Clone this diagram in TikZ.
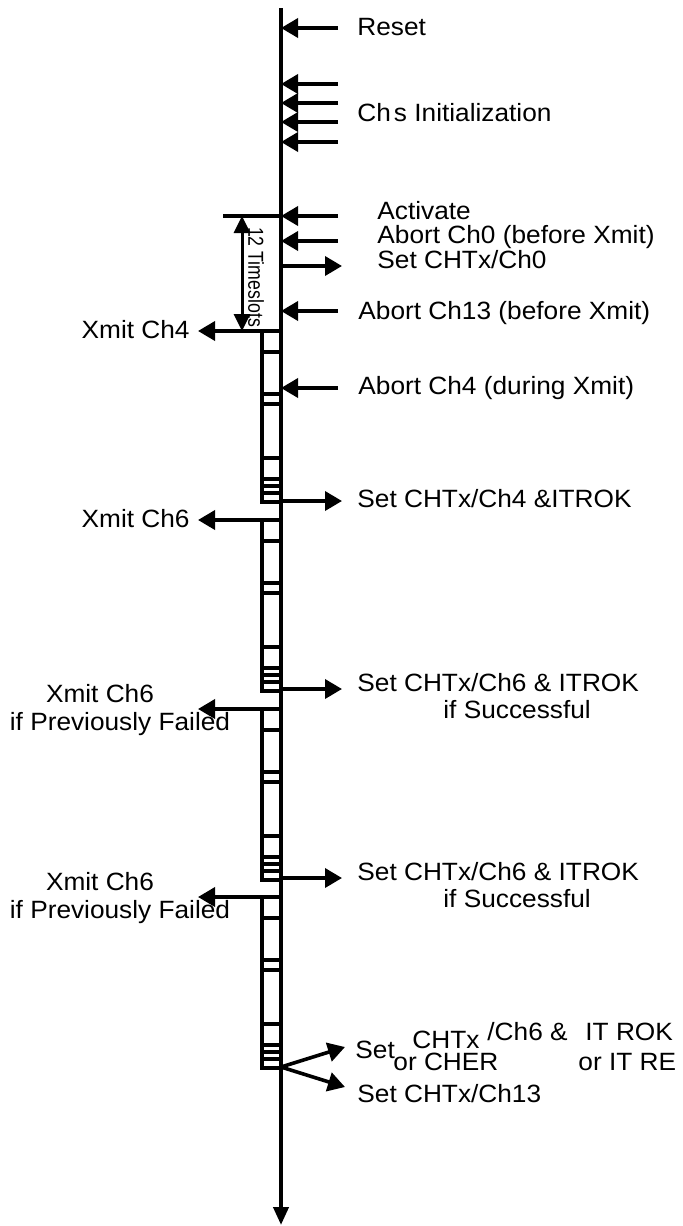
\documentclass[tikz,border=0pt]{standalone}
\usepackage{fontspec}
\setmainfont{Liberation Sans}[FakeStretch=1.05]
\newfontfamily\narrowsans{Liberation Sans}[FakeStretch=0.82]
\usetikzlibrary{arrows.meta}
\begin{document}
\begin{tikzpicture}[x=0.5pt,y=-0.5pt,
    lbl/.style={anchor=base west,inner sep=0pt,font=\fontsize{12.5}{14}\selectfont},
    lblr/.style={lbl,anchor=base east},
    sig/.style={line width=1.8pt,-{Triangle[length=8.5pt,width=9.5pt]}},
    slot/.style={line width=1.7pt}]
    \useasboundingbox (0,0) rectangle (683,1226);
    % time axis
    \coordinate (t0) at (281,8);
    \coordinate (tend) at (281,1225);
    \draw[line width=2pt,-{Triangle[length=9pt,width=7.5pt]}] (t0) -- (tend);
    % timeslot blocks, each with a transmit arrow to the left
    \foreach \y [count=\i] in {331,520,709,897} {
        \coordinate (blk\i) at (281,\y);
        \coordinate (xm\i) at (198,\y);
        \draw[slot] (262,\y) rectangle (281,\y+171);
        \foreach \d in {21,63,73,127,148,155,162}
            \draw[slot] (262,\y+\d) -- (281,\y+\d);
        \draw[sig] (blk\i) -- (xm\i);
    }
    % events coming in from the right
    \foreach \y/\n in {28/rst,84/ini1,103/ini2,122/ini3,142/ini4,216/act,241/ab0,311/ab13,388/ab4} {
        \coordinate (\n) at (281,\y);
        \coordinate (\n src) at (338,\y);
        \draw[sig] (\n src) -- (\n);
    }
    % outputs to the right
    \foreach \y/\n in {266/set0,501/set4,689/set6a,878/set6b} {
        \coordinate (\n) at (281,\y);
        \coordinate (\n dst) at (342,\y);
        \draw[sig] (\n) -- (\n dst);
    }
    % 12 timeslots
    \coordinate (dimtop) at (223,216);
    \draw[slot] (dimtop) -- (act);
    \coordinate (dima) at (242,216);
    \coordinate (dimb) at (242,331);
    \draw[line width=1.5pt,{Triangle[length=8.5pt,width=8pt]}-{Triangle[length=8.5pt,width=8pt]}] (dima) -- (dimb);
    \node[rotate=-90,inner sep=0pt,font=\narrowsans\fontsize{10.8}{12}\selectfont] (ts) at (256,277) {12 Timeslots};
    % end of last block
    \coordinate (fin) at (281,1067);
    \coordinate (finA) at (345,1047);
    \coordinate (finB) at (345,1087);
    \draw[sig] (fin) -- (finA);
    \draw[sig] (fin) -- (finB);
    % labels
    \node[lbl] (lrst) at (357,35) {Reset};
    \node[lbl] (lini) at (357,121) {Ch\hspace{1.5pt}s Initialization};
    \node[lbl] (lact) at (377,219) {Activate};
    \node[lbl] (lab0) at (377,243) {Abort Ch0 (before Xmit)};
    \node[lbl] (lset0) at (377,268) {Set CHTx/Ch0};
    \node[lbl] (lab13) at (358,319) {Abort Ch13 (before Xmit)};
    \node[lbl] (lab4) at (358,394) {Abort Ch4 (during Xmit)};
    \node[lbl] (lset4) at (357,507) {Set CHTx/Ch4 \&ITROK};
    \node[lbl] (lset6a) at (357,691) {Set CHTx/Ch6 \& ITROK};
    \node[lbl] (lsuca) at (443,718) {if Successful};
    \node[lbl] (lset6b) at (357,880) {Set CHTx/Ch6 \& ITROK};
    \node[lbl] (lsucb) at (443,907) {if Successful};
    \node[lblr] (lxm1) at (190,338) {Xmit Ch4};
    \node[lblr] (lxm2) at (190,527) {Xmit Ch6};
    \node[lbl,anchor=base] (lxm3) at (100,702) {Xmit Ch6};
    \node[lbl,anchor=base] (lpf3) at (120,730) {if Previously Failed};
    \node[lbl,anchor=base] (lxm4) at (100,890) {Xmit Ch6};
    \node[lbl,anchor=base] (lpf4) at (120,918) {if Previously Failed};
    \node[lbl] (lfa1) at (355,1058) {Set};
    \node[lbl] (lfa2) at (412,1048) {CHTx};
    \node[lbl] (lfa3) at (487,1040) {/Ch6 \&};
    \node[lbl] (lfa4) at (585,1040) {IT ROK};
    \node[lbl] (lfa5) at (393,1070) {or CHER};
    \node[lbl] (lfa6) at (578,1070) {or IT RE};
    \node[lbl] (lfb) at (357,1102) {Set CHTx/Ch13};
\end{tikzpicture}
\end{document}
